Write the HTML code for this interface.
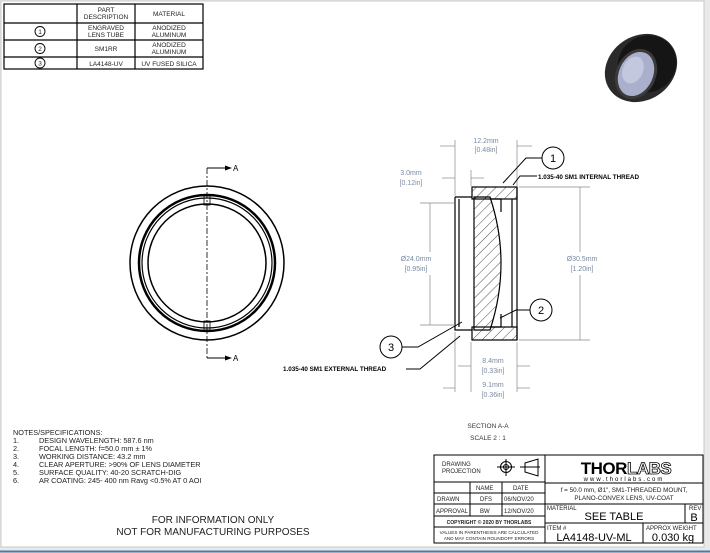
<!DOCTYPE html>
<html><head><meta charset="utf-8"><style>
html,body{margin:0;padding:0;background:#e8e8e8}
svg{display:block;font-family:"Liberation Sans",sans-serif}
</style></head><body>
<svg width="710" height="553" viewBox="0 0 710 553" xmlns="http://www.w3.org/2000/svg">
<rect x="0" y="0" width="710" height="553" fill="#e9e9e9"/>
<rect x="1" y="1" width="703" height="546" fill="#fff" stroke="#c8c8c8" stroke-width="1"/>
<line x1="0" y1="551.5" x2="710" y2="551.5" stroke="#4a78b0" stroke-width="2"/>

<!-- parts table -->
<g stroke="#000" stroke-width="1.2" fill="none">
<rect x="4" y="4" width="199" height="65"/>
<line x1="77" y1="4" x2="77" y2="69"/><line x1="135" y1="4" x2="135" y2="69"/>
<line x1="4" y1="23" x2="203" y2="23"/><line x1="4" y1="40" x2="203" y2="40"/><line x1="4" y1="57" x2="203" y2="57"/>
<circle cx="40" cy="31.5" r="5" stroke-width="0.9"/><circle cx="40" cy="48.5" r="5" stroke-width="0.9"/><circle cx="40" cy="63" r="5" stroke-width="0.9"/>
</g>
<g font-size="6.5" text-anchor="middle" fill="#222">
<text x="40" y="34">1</text><text x="40" y="51">2</text><text x="40" y="65.5">3</text>
<text x="106" y="12">PART</text><text x="106" y="19">DESCRIPTION</text><text x="169" y="16">MATERIAL</text>
<text x="106" y="30">ENGRAVED</text><text x="106" y="37">LENS TUBE</text>
<text x="169" y="30">ANODIZED</text><text x="169" y="37">ALUMINUM</text>
<text x="106" y="51">SM1RR</text>
<text x="169" y="47">ANODIZED</text><text x="169" y="54">ALUMINUM</text>
<text x="106" y="66">LA4148-UV</text><text x="169" y="66">UV FUSED SILICA</text>
</g>

<!-- product photo -->
<g>
<ellipse cx="641" cy="68" rx="38" ry="32" transform="rotate(-35 641 68)" fill="#2a2a2a"/>
<ellipse cx="647" cy="64" rx="30" ry="28" transform="rotate(-35 647 64)" fill="#151515"/>
<ellipse cx="636" cy="74" rx="20" ry="26" transform="rotate(25 636 74)" fill="#3a3a3a"/>
<ellipse cx="636" cy="74" rx="17" ry="23" transform="rotate(25 636 74)" fill="#aab0cc"/>
<ellipse cx="633" cy="70" rx="10" ry="14" transform="rotate(25 633 70)" fill="#c4c8de"/>
</g>

<!-- front view -->
<g stroke="#000" fill="none">
<circle cx="207" cy="263" r="77" stroke-width="1.5"/>
<circle cx="207" cy="263" r="68" stroke-width="2.5"/>
<circle cx="207" cy="263" r="65" stroke-width="1.2"/>
<circle cx="207" cy="263" r="59" stroke-width="1.5"/>
<rect x="204" y="196" width="6" height="9" stroke-width="0.8"/>
<rect x="204" y="321" width="6" height="9" stroke-width="0.8"/>
<line x1="207" y1="168" x2="207" y2="358" stroke-width="0.8" stroke-dasharray="6,2,2,2"/>
<polyline points="207,168 226,168" stroke-width="0.9"/><polyline points="207,358 226,358" stroke-width="0.9"/>
</g>
<polygon points="232,168 225,165.5 225,170.5" fill="#000"/><polygon points="232,358 225,355.5 225,360.5" fill="#000"/>
<text x="233" y="171" font-size="8">A</text><text x="233" y="361" font-size="8">A</text>

<!-- section view -->
<defs><pattern id="h" width="7" height="7" patternUnits="userSpaceOnUse" patternTransform="rotate(45)"><line x1="0" y1="0" x2="0" y2="7" stroke="#000" stroke-width="0.7"/></pattern></defs>
<g stroke="#000" stroke-width="1.2">
<rect x="472" y="187" width="45" height="12" fill="url(#h)"/>
<rect x="472" y="327" width="45" height="13" fill="url(#h)"/>
<path d="M474,197 L490,197 Q512,263 490,330 L474,330 Z" fill="url(#h)"/>
<path d="M455,197 L472,197 M455,197 L455,330 L472,330 M459,199 L459,327" fill="none"/>
<path d="M490,199 L501,199 L501,212 M490,327 L501,327 L501,314" fill="none"/>
<line x1="512" y1="199" x2="512" y2="327" fill="none"/>
<line x1="517" y1="187" x2="517" y2="340" fill="none"/>
</g>
<!-- dimensions -->
<g stroke="#888" stroke-width="0.7" fill="none">
<line x1="455" y1="140" x2="455" y2="196"/><line x1="517" y1="140" x2="517" y2="186"/>
<line x1="440" y1="146" x2="455" y2="146"/><line x1="517" y1="146" x2="532" y2="146"/>
<line x1="471" y1="170" x2="471" y2="186"/><line x1="442" y1="178" x2="455" y2="178"/><line x1="471" y1="178" x2="484" y2="178"/>
<line x1="420" y1="203" x2="455" y2="203"/><line x1="420" y1="325" x2="455" y2="325"/><line x1="430" y1="203" x2="430" y2="252"/><line x1="430" y1="275" x2="430" y2="325"/>
<line x1="519" y1="187" x2="590" y2="187"/><line x1="519" y1="340" x2="590" y2="340"/><line x1="580" y1="187" x2="580" y2="252"/><line x1="580" y1="275" x2="580" y2="340"/>
<line x1="471" y1="342" x2="471" y2="392"/><line x1="517" y1="342" x2="517" y2="392"/><line x1="455" y1="332" x2="455" y2="392"/>
<line x1="458" y1="366" x2="471" y2="366"/><line x1="517" y1="366" x2="530" y2="366"/>
<line x1="443" y1="388" x2="455" y2="388"/><line x1="517" y1="388" x2="530" y2="388"/>
</g>
<g font-size="7" fill="#7a8aa0" text-anchor="middle">
<text x="486" y="143">12.2mm</text><text x="486" y="152">[0.48in]</text>
<text x="411" y="175">3.0mm</text><text x="411" y="185">[0.12in]</text>
<text x="416" y="261">Ø24.0mm</text><text x="416" y="271">[0.95in]</text>
<text x="582" y="261">Ø30.5mm</text><text x="582" y="271">[1.20in]</text>
<text x="493" y="363">8.4mm</text><text x="493" y="373">[0.33in]</text>
<text x="493" y="387">9.1mm</text><text x="493" y="397">[0.36in]</text>
</g>
<!-- balloons & leaders -->
<g stroke="#000" stroke-width="1" fill="#fff">
<polyline points="543,158 526,158 503,183" fill="none"/>
<polyline points="537,176 520,176 513,185" fill="none"/>
<polyline points="530,310 516,310 500,318" fill="none"/>
<polyline points="402,347 418,347 462,322" fill="none"/>
<polyline points="406,369 420,369 460,336" fill="none"/>
<circle cx="553" cy="158" r="11"/><circle cx="541" cy="310" r="11"/><circle cx="391" cy="347" r="11"/>
</g>
<g font-size="11" text-anchor="middle"><text x="553" y="162">1</text><text x="541" y="314">2</text><text x="391" y="351">3</text></g>
<g font-size="6.3" font-weight="bold">
<text x="538" y="179">1.035-40 SM1 INTERNAL THREAD</text>
<text x="283" y="371">1.035-40 SM1 EXTERNAL THREAD</text>
</g>
<g font-size="6.5" text-anchor="middle" fill="#333"><text x="488" y="428">SECTION A-A</text><text x="488" y="440">SCALE 2 : 1</text></g>

<!-- notes -->
<g font-size="7.3" fill="#222">
<text x="13" y="435">NOTES/SPECIFICATIONS:</text>
<text x="13" y="443">1.</text><text x="39" y="443">DESIGN WAVELENGTH: 587.6 nm</text>
<text x="13" y="451">2.</text><text x="39" y="451">FOCAL LENGTH: f=50.0 mm ± 1%</text>
<text x="13" y="459">3.</text><text x="39" y="459">WORKING DISTANCE: 43.2 mm</text>
<text x="13" y="467">4.</text><text x="39" y="467">CLEAR APERTURE: &gt;90% OF LENS DIAMETER</text>
<text x="13" y="475">5.</text><text x="39" y="475">SURFACE QUALITY: 40-20 SCRATCH-DIG</text>
<text x="13" y="483">6.</text><text x="39" y="483">AR COATING: 245- 400 nm Ravg &lt;0.5% AT 0 AOI</text>
</g>
<g font-size="10" text-anchor="middle" fill="#222"><text x="213" y="523">FOR INFORMATION ONLY</text><text x="213" y="535">NOT FOR MANUFACTURING PURPOSES</text></g>

<!-- title block -->
<g stroke="#000" stroke-width="1" fill="none">
<rect x="434" y="455" width="269" height="88"/>
<line x1="545" y1="455" x2="545" y2="543"/>
<line x1="434" y1="482" x2="545" y2="482"/><line x1="434" y1="493" x2="545" y2="493"/><line x1="434" y1="504" x2="545" y2="504"/><line x1="434" y1="516" x2="545" y2="516"/><line x1="434" y1="527" x2="545" y2="527"/>
<line x1="470" y1="482" x2="470" y2="516"/><line x1="502" y1="482" x2="502" y2="516"/>
<line x1="545" y1="483" x2="703" y2="483"/><line x1="545" y1="504" x2="703" y2="504"/><line x1="545" y1="523" x2="703" y2="523"/>
<line x1="685" y1="504" x2="685" y2="523"/><line x1="643" y1="523" x2="643" y2="543"/>
<circle cx="506" cy="467" r="5.5"/><circle cx="506" cy="467" r="2.5"/><line x1="497" y1="467" x2="515" y2="467"/><line x1="506" y1="459" x2="506" y2="476"/>
<path d="M525,463 L538,459 L538,476 L525,472 Z M520,467 L540,467"/>
</g>
<g font-size="6" fill="#222">
<text x="442" y="466">DRAWING</text><text x="442" y="473">PROJECTION</text>
<text x="476" y="490">NAME</text><text x="513" y="490">DATE</text>
<text x="437" y="501">DRAWN</text><text x="480" y="501">DFS</text><text x="504" y="501">06/NOV/20</text>
<text x="436" y="513">APPROVAL</text><text x="480" y="513">BW</text><text x="504" y="513">12/NOV/20</text>
<text x="489" y="524" font-size="5" text-anchor="middle" font-weight="bold">COPYRIGHT © 2020 BY THORLABS</text>
<text x="489" y="534" font-size="4.6" text-anchor="middle">VALUES IN PARENTHESIS ARE CALCULATED</text>
<text x="489" y="540" font-size="4.6" text-anchor="middle">AND MAY CONTAIN ROUNDOFF ERRORS</text>
<text x="624" y="492" font-size="6.3" text-anchor="middle">f = 50.0 mm, Ø1", SM1-THREADED MOUNT,</text>
<text x="624" y="500" font-size="6.3" text-anchor="middle">PLANO-CONVEX LENS, UV-COAT</text>
<text x="547" y="510">MATERIAL</text><text x="689" y="510">REV</text>
<text x="547" y="530">ITEM #</text><text x="646" y="530">APPROX WEIGHT</text>
</g>
<text x="626" y="474" font-size="17" font-weight="bold" text-anchor="middle" letter-spacing="-0.5">THOR<tspan fill="#fff" stroke="#000" stroke-width="0.8">LABS</tspan></text>
<text x="624" y="481" font-size="6" text-anchor="middle" letter-spacing="2">www.thorlabs.com</text>
<text x="614" y="520" font-size="11" text-anchor="middle">SEE TABLE</text>
<text x="694" y="521" font-size="11" text-anchor="middle">B</text>
<text x="594" y="541" font-size="11" text-anchor="middle">LA4148-UV-ML</text>
<text x="673" y="541" font-size="11" text-anchor="middle">0.030 kg</text>
</svg>
</body></html>
